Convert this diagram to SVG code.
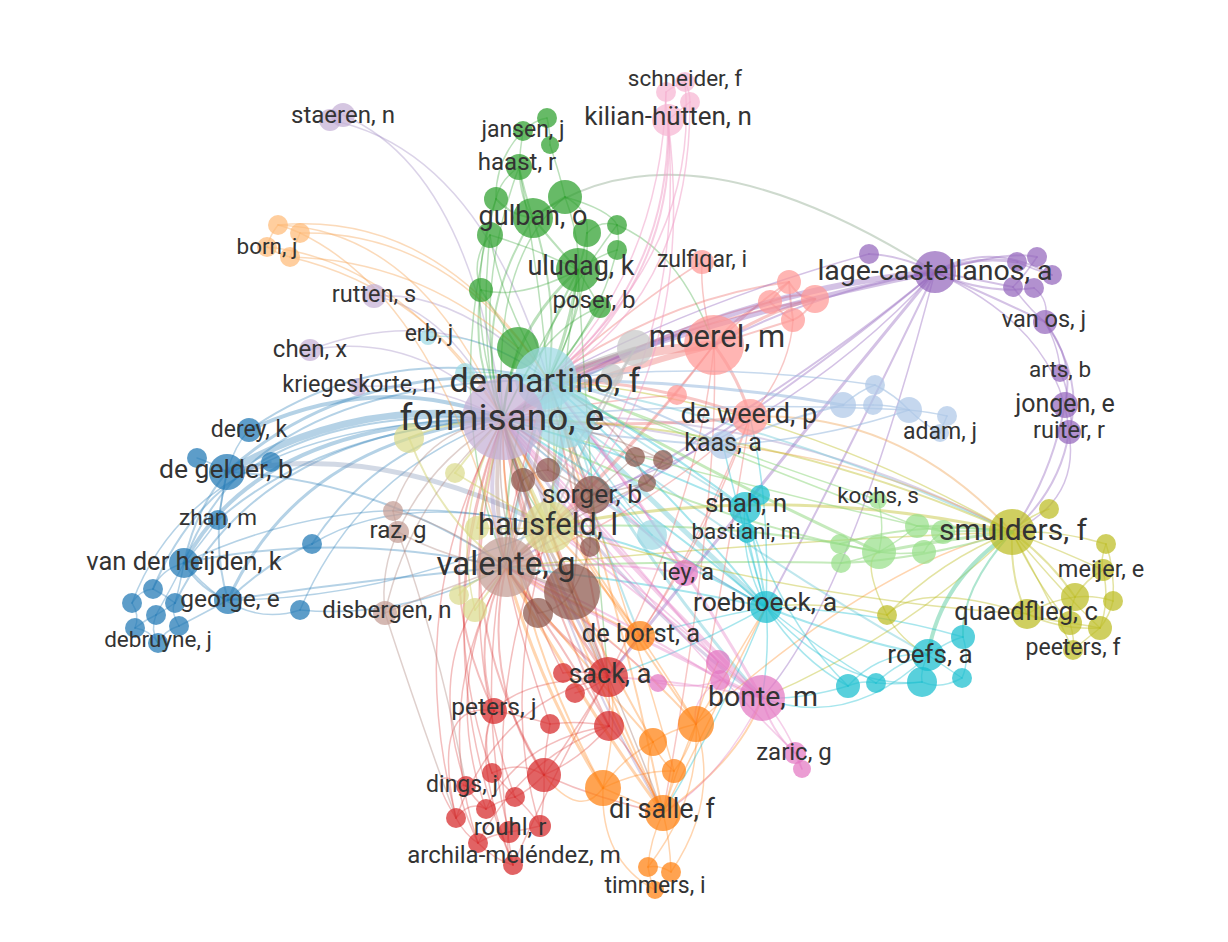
<svg xmlns="http://www.w3.org/2000/svg" width="1228" height="942" viewBox="0 0 1228 942">
<style>
.e path{fill:none;stroke-linecap:round}
.eb{stroke:#1f77b4;stroke-opacity:.33}
.egb{stroke:#7f93b5;stroke-opacity:.35}
.elp{stroke:#9a84c0;stroke-opacity:.36}
.elc{stroke:#7fcfdc;stroke-opacity:.5}
.elr{stroke:#f08a88;stroke-opacity:.48}
.epu{stroke:#9467bd;stroke-opacity:.4}
.etop{stroke:#a5bca5;stroke-opacity:.55}
.egr{stroke:#2ca02c;stroke-opacity:.32}
.elo{stroke:#f5a85a;stroke-opacity:.42}
.ere{stroke:#d62728;stroke-opacity:.3}
.eor{stroke:#ff7f0e;stroke-opacity:.33}
.elo2{stroke:#f0a860;stroke-opacity:.45}
.eol{stroke:#bcbd22;stroke-opacity:.42}
.ely{stroke:#cfcf6a;stroke-opacity:.48}
.elg{stroke:#8fd67f;stroke-opacity:.52}
.etl{stroke:#5ccba0;stroke-opacity:.5}
.ecy{stroke:#17becf;stroke-opacity:.38}
.epk{stroke:#e377c2;stroke-opacity:.36}
.elpk{stroke:#f0a0c8;stroke-opacity:.52}
.elb{stroke:#9fbde0;stroke-opacity:.58}
.ebr{stroke:#8c564b;stroke-opacity:.32}
.elbr{stroke:#b08a82;stroke-opacity:.4}
.egy{stroke:#b5b5b5;stroke-opacity:.55}
circle{fill-opacity:.72}
.blue{fill:#1f77b4}.green{fill:#2ca02c}.red{fill:#d62728}.orange{fill:#ff7f0e}
.olive{fill:#bcbd22}.purple{fill:#9467bd}.cyan{fill:#17becf}.pink{fill:#e377c2}
.lgreen{fill:#98df8a}.lred{fill:#ff9896}.lorange{fill:#ffbb78}.brown{fill:#8c564b}
.lbrown{fill:#c49c94}.lpink{fill:#f7b6d2}.grey{fill:#c7c7c7}.lblue{fill:#aec7e8}
.lyellow{fill:#dbdb8d}.lcyan{fill:#9edae5}.lpurple{fill:#c5b0d5}
text{font-family:Roboto,"Liberation Sans",sans-serif;fill:#333;text-anchor:middle}
</style>
<rect width="1228" height="942" fill="#fff"/>
<g id="connectors" class="e">
<g class="eb" stroke-width="7"><path d="M227,472Q360,395 503,419"/></g>
<g class="eb" stroke-width="4"><path d="M249,430Q380,370 503,419"/><path d="M184,563Q260,420 503,419"/></g>
<g class="eb" stroke-width="3"><path d="M228,600Q300,440 503,419"/><path d="M227,472Q350,360 548,380"/></g>
<g class="eb" stroke-width="2"><path d="M249,430Q380,340 548,380"/><path d="M184,563Q250,380 548,380"/><path d="M153,589Q230,400 503,419"/><path d="M175,603Q260,430 503,419"/><path d="M312,544Q380,440 503,419"/><path d="M228,600Q360,580 506,567"/><path d="M184,563Q340,530 506,567"/><path d="M227,472Q380,480 506,567"/><path d="M218,520Q320,430 503,419"/><path d="M227,472Q195,510 184,563"/><path d="M227,472Q210,540 228,600"/><path d="M184,563Q200,590 228,600"/><path d="M312,544Q270,560 228,600"/></g>
<g class="eb" stroke-width="1.5"><path d="M132,603Q200,420 503,419"/><path d="M300,610Q360,470 503,419"/><path d="M184,563Q360,480 549,527"/><path d="M228,600Q380,600 549,527"/><path d="M300,610Q240,630 184,563"/><path d="M153,589Q160,570 184,563"/><path d="M156,615Q170,590 184,563"/><path d="M175,603Q180,585 184,563"/><path d="M132,603Q140,590 153,589"/><path d="M135,628Q145,620 156,615"/><path d="M179,626Q170,610 175,603"/><path d="M158,643Q165,630 179,626"/><path d="M158,643Q150,630 135,628"/><path d="M132,603Q140,615 135,628"/><path d="M156,615Q165,610 175,603"/><path d="M153,589Q165,595 175,603"/><path d="M156,615Q150,630 158,643"/><path d="M179,626Q210,610 228,600"/><path d="M249,430Q235,445 227,472"/><path d="M197,458Q210,462 227,472"/><path d="M271,462Q250,465 227,472"/><path d="M218,520Q222,500 227,472"/><path d="M218,520Q200,545 184,563"/><path d="M300,610Q400,620 506,567"/><path d="M312,544Q400,490 549,527"/></g>
<g class="egb" stroke-width="5"><path d="M227,472Q380,440 549,527"/></g>
<g class="elp" stroke-width="1.5"><path d="M343,115Q470,170 503,419"/><path d="M330,120Q480,150 548,380"/><path d="M374,296Q450,310 503,419"/><path d="M310,350Q420,330 503,419"/><path d="M310,350Q440,300 548,380"/><path d="M358,387Q430,380 503,419"/><path d="M374,296Q460,290 548,380"/></g>
<g class="elp" stroke-width="2"><path d="M503,419Q760,400 1012,532"/><path d="M503,419Q640,540 766,607"/><path d="M503,419Q620,420 723,445"/><path d="M503,419Q560,640 663,813"/></g>
<g class="elp" stroke-width="3"><path d="M503,419Q620,600 762,698"/><path d="M503,419Q540,560 608,677"/></g>
<g class="elp" stroke-width="4"><path d="M503,419Q480,490 506,567"/><path d="M503,419Q540,470 549,527"/></g>
<g class="elc" stroke-width="5"><path d="M565,415Q650,500 766,607"/><path d="M565,415Q560,470 549,527"/></g>
<g class="elc" stroke-width="3"><path d="M565,415Q640,560 762,698"/><path d="M548,380Q520,480 506,567"/></g>
<g class="elc" stroke-width="2"><path d="M565,415Q760,560 928,655"/><path d="M548,380Q650,450 745,508"/><path d="M548,380Q800,430 1012,532"/><path d="M565,415Q590,460 592,495"/><path d="M565,415Q600,540 640,636"/><path d="M548,380Q600,380 635,348"/></g>
<g class="elc" stroke-width="1.5"><path d="M428,337Q480,330 548,380"/><path d="M465,373Q500,370 548,380"/><path d="M652,535Q600,470 565,415"/><path d="M652,535Q560,470 503,419"/></g>
<g class="elr" stroke-width="9"><path d="M714,345Q630,350 548,380"/></g>
<g class="elr" stroke-width="6"><path d="M714,345Q610,370 503,419"/></g>
<g class="elr" stroke-width="3"><path d="M714,345Q770,310 815,299"/><path d="M750,417Q740,380 714,345"/><path d="M750,417Q650,380 548,380"/><path d="M750,417Q620,430 503,419"/></g>
<g class="elr" stroke-width="2"><path d="M714,345Q760,300 789,282"/><path d="M714,345Q740,310 770,302"/><path d="M714,345Q760,330 793,320"/><path d="M815,299Q700,320 548,380"/><path d="M789,282Q660,300 548,380"/><path d="M714,345Q620,470 506,567"/><path d="M714,345Q640,440 549,527"/><path d="M789,282Q800,300 815,299"/><path d="M770,302Q780,290 789,282"/><path d="M770,302Q790,320 793,320"/><path d="M815,299Q805,315 793,320"/><path d="M789,282Q790,300 793,320"/><path d="M770,302Q800,290 815,299"/></g>
<g class="elr" stroke-width="1.5"><path d="M702,262Q700,300 714,345"/><path d="M702,262Q640,300 548,380"/><path d="M714,345Q700,500 608,677"/><path d="M750,417Q700,560 608,677"/><path d="M750,417Q640,520 506,567"/><path d="M750,417Q700,540 640,636"/><path d="M793,320Q790,370 750,417"/><path d="M677,395Q600,400 503,419"/><path d="M770,302Q650,330 503,419"/><path d="M714,345Q720,500 663,813"/><path d="M750,417Q720,600 696,724"/></g>
<g class="epu" stroke-width="6"><path d="M935,272Q720,290 503,419"/></g>
<g class="epu" stroke-width="5"><path d="M935,272Q740,310 548,380"/></g>
<g class="epu" stroke-width="3"><path d="M935,272Q780,460 608,677"/><path d="M935,272Q975,255 1017,262"/></g>
<g class="epu" stroke-width="2"><path d="M935,272Q780,400 549,527"/><path d="M935,272Q760,420 506,567"/><path d="M935,272Q840,470 766,607"/><path d="M935,272Q900,255 869,254"/><path d="M935,272Q985,295 1034,288"/><path d="M935,272Q990,240 1052,275"/><path d="M935,272Q1000,300 1045,322"/><path d="M1045,322Q1075,360 1065,405"/><path d="M1045,322Q1085,380 1069,432"/><path d="M1069,432Q1060,490 1012,532"/><path d="M1065,405Q1050,480 1012,532"/><path d="M935,272Q820,290 714,345"/><path d="M935,272Q1010,250 1037,257"/><path d="M935,272Q980,280 1013,287"/></g>
<g class="epu" stroke-width="1.5"><path d="M935,272Q1060,330 1069,432"/><path d="M1065,405Q1075,420 1069,432"/><path d="M1060,373Q1070,390 1065,405"/><path d="M1045,322Q1060,350 1060,373"/><path d="M935,272Q800,420 592,495"/><path d="M1017,262Q1035,270 1052,275"/><path d="M1013,287Q1025,275 1037,257"/><path d="M1034,288Q1050,300 1045,322"/><path d="M1013,287Q1030,310 1045,322"/><path d="M1069,432Q1080,500 1012,532"/><path d="M869,254Q700,300 548,380"/><path d="M935,272Q850,600 762,698"/></g>
<g class="etop" stroke-width="2"><path d="M533,218Q680,110 935,272"/></g>
<g class="egr" stroke-width="3"><path d="M578,270Q510,330 503,419"/><path d="M578,270Q570,330 548,380"/></g>
<g class="egr" stroke-width="2"><path d="M533,218Q470,320 503,419"/><path d="M533,218Q560,300 548,380"/><path d="M578,270Q500,420 506,567"/><path d="M481,290Q470,360 503,419"/><path d="M481,290Q500,320 518,348"/><path d="M518,348Q505,390 503,419"/><path d="M600,307Q580,340 548,380"/><path d="M533,218Q555,245 578,270"/><path d="M519,167Q525,195 533,218"/><path d="M565,197Q550,205 533,218"/><path d="M496,199Q510,215 533,218"/><path d="M587,233Q585,250 578,270"/></g>
<g class="egr" stroke-width="1.5"><path d="M578,270Q560,400 549,527"/><path d="M578,270Q590,480 608,677"/><path d="M519,167Q470,300 503,419"/><path d="M519,167Q540,280 548,380"/><path d="M565,197Q490,260 503,419"/><path d="M565,197Q600,290 548,380"/><path d="M496,199Q460,300 503,419"/><path d="M490,235Q500,300 548,380"/><path d="M587,233Q590,300 548,380"/><path d="M617,225Q560,300 503,419"/><path d="M617,250Q600,320 548,380"/><path d="M600,307Q540,330 503,419"/><path d="M519,167Q520,150 523,131"/><path d="M523,131Q535,120 547,118"/><path d="M547,118Q550,130 550,145"/><path d="M496,199Q500,180 519,167"/><path d="M490,235Q540,250 578,270"/><path d="M578,270Q590,290 600,307"/><path d="M578,270Q600,255 617,250"/><path d="M481,290Q520,300 578,270"/><path d="M565,197Q590,210 587,233"/><path d="M617,225Q600,220 587,233"/><path d="M496,199Q440,400 506,567"/><path d="M490,235Q470,420 549,527"/><path d="M617,225Q680,250 714,345"/><path d="M533,218Q520,200 519,167"/><path d="M550,145Q560,175 565,197"/><path d="M523,131Q495,160 496,199"/><path d="M490,235Q470,260 481,290"/><path d="M565,197Q610,210 617,225"/><path d="M617,250Q620,240 617,225"/></g>
<g class="elo" stroke-width="1.5"><path d="M278,225Q420,230 503,419"/><path d="M300,233Q450,230 548,380"/><path d="M267,247Q400,260 503,419"/><path d="M290,257Q420,260 518,348"/><path d="M290,257Q430,290 503,419"/><path d="M278,225Q440,210 548,380"/><path d="M300,233Q440,300 506,567"/><path d="M278,225Q290,228 300,233"/><path d="M267,247Q280,255 290,257"/><path d="M278,225Q270,235 267,247"/><path d="M300,233Q295,245 290,257"/></g>
<g class="ere" stroke-width="3"><path d="M608,677Q520,560 503,419"/><path d="M608,677Q540,620 506,567"/></g>
<g class="ere" stroke-width="2"><path d="M608,677Q580,520 548,380"/><path d="M608,677Q580,600 549,527"/><path d="M494,711Q420,560 503,419"/><path d="M494,711Q470,640 506,567"/><path d="M544,775Q440,600 503,419"/><path d="M544,775Q480,680 506,567"/><path d="M609,726Q530,560 503,419"/><path d="M609,726Q560,640 506,567"/></g>
<g class="ere" stroke-width="1.5"><path d="M456,818Q400,600 503,419"/><path d="M486,809Q440,680 506,567"/><path d="M515,797Q450,620 503,419"/><path d="M478,843Q430,700 506,567"/><path d="M513,865Q420,640 503,419"/><path d="M540,826Q500,700 549,527"/><path d="M550,724Q520,640 506,567"/><path d="M563,673Q500,550 503,419"/><path d="M492,773Q430,600 503,419"/><path d="M466,786Q420,650 506,567"/><path d="M509,832Q460,650 548,380"/><path d="M456,818Q430,700 494,711"/><path d="M513,865Q470,750 494,711"/><path d="M478,843Q450,780 466,786"/><path d="M456,818Q470,800 486,809"/><path d="M486,809Q500,800 515,797"/><path d="M515,797Q530,810 540,826"/><path d="M509,832Q525,830 540,826"/><path d="M478,843Q490,835 509,832"/><path d="M513,865Q505,850 509,832"/><path d="M478,843Q495,860 513,865"/><path d="M456,818Q465,835 478,843"/><path d="M466,786Q475,800 486,809"/><path d="M492,773Q505,785 515,797"/><path d="M544,775Q530,790 515,797"/><path d="M544,775Q545,800 540,826"/><path d="M550,724Q545,750 544,775"/><path d="M494,711Q520,715 550,724"/><path d="M609,726Q580,720 550,724"/><path d="M608,677Q610,700 609,726"/><path d="M563,673Q585,670 608,677"/><path d="M575,693Q590,690 608,677"/><path d="M609,726Q580,760 544,775"/><path d="M494,711Q480,740 492,773"/><path d="M544,775Q520,760 492,773"/><path d="M608,677Q520,680 494,711"/><path d="M608,677Q570,740 544,775"/><path d="M609,726Q640,760 663,813"/><path d="M544,775Q600,800 663,813"/><path d="M456,818Q420,760 466,786"/><path d="M513,865Q480,700 549,527"/><path d="M486,809Q520,740 609,726"/><path d="M456,818Q500,700 608,677"/><path d="M478,843Q520,760 609,726"/><path d="M513,865Q560,760 608,677"/></g>
<g class="eor" stroke-width="3"><path d="M663,813Q580,700 506,567"/><path d="M603,788Q540,690 506,567"/></g>
<g class="eor" stroke-width="2"><path d="M663,813Q560,620 503,419"/><path d="M663,813Q620,600 548,380"/><path d="M663,813Q600,680 549,527"/><path d="M603,788Q500,600 503,419"/><path d="M696,724Q580,560 503,419"/><path d="M696,724Q600,620 506,567"/><path d="M653,742Q560,580 503,419"/><path d="M653,742Q580,660 506,567"/><path d="M640,636Q560,520 503,419"/><path d="M640,636Q570,600 506,567"/><path d="M640,636Q600,580 549,527"/><path d="M663,813Q740,760 762,698"/></g>
<g class="eor" stroke-width="1.5"><path d="M674,771Q620,580 548,380"/><path d="M663,813Q680,760 696,724"/><path d="M663,813Q630,800 603,788"/><path d="M603,788Q620,760 653,742"/><path d="M653,742Q670,730 696,724"/><path d="M674,771Q690,750 696,724"/><path d="M663,813Q670,790 674,771"/><path d="M603,788Q640,770 674,771"/><path d="M653,742Q660,760 674,771"/><path d="M663,813Q640,775 653,742"/><path d="M648,867Q650,840 663,813"/><path d="M671,872Q670,840 663,813"/><path d="M655,890Q600,860 603,788"/><path d="M648,867Q700,800 696,724"/><path d="M671,872Q720,800 696,724"/><path d="M648,867Q660,865 671,872"/><path d="M655,890Q650,880 648,867"/><path d="M696,724Q740,650 766,607"/><path d="M696,724Q880,560 1012,532"/><path d="M603,788Q620,710 608,677"/><path d="M640,636Q670,680 696,724"/><path d="M696,724Q700,700 718,662"/><path d="M603,788Q580,820 544,775"/><path d="M663,813Q720,700 766,607"/></g>
<g class="elo2" stroke-width="2"><path d="M750,417Q900,410 1012,532"/></g>
<g class="elo2" stroke-width="1.5"><path d="M723,445Q880,460 1012,532"/></g>
<g class="eol" stroke-width="3"><path d="M1012,532Q780,480 549,527"/></g>
<g class="eol" stroke-width="2"><path d="M1012,532Q760,420 503,419"/><path d="M1012,532Q1050,560 1075,597"/><path d="M1012,532Q1010,580 1027,614"/></g>
<g class="eol" stroke-width="1.5"><path d="M1012,532Q780,400 548,380"/><path d="M1012,532Q780,540 506,567"/><path d="M1012,532Q940,560 887,615"/><path d="M1012,532Q1060,530 1106,544"/><path d="M1012,532Q1060,550 1103,570"/><path d="M1012,532Q1060,590 1100,628"/><path d="M1012,532Q1040,590 1070,623"/><path d="M1012,532Q1050,600 1073,650"/><path d="M1012,532Q1030,515 1049,509"/><path d="M1027,614Q1050,600 1075,597"/><path d="M1027,614Q1060,630 1100,628"/><path d="M1075,597Q1095,595 1113,601"/><path d="M1103,570Q1110,600 1100,628"/><path d="M1106,544Q1100,560 1103,570"/><path d="M1075,597Q1085,580 1103,570"/><path d="M1070,623Q1085,625 1100,628"/><path d="M1073,650Q1085,640 1100,628"/><path d="M1070,623Q1075,640 1073,650"/><path d="M1027,614Q1045,620 1070,623"/><path d="M1113,601Q1110,615 1100,628"/><path d="M1075,597Q1070,610 1070,623"/><path d="M1106,544Q1115,570 1113,601"/><path d="M1027,614Q800,600 549,527"/><path d="M887,615Q820,600 766,607"/><path d="M887,615Q900,640 928,655"/><path d="M1012,532Q900,640 762,698"/><path d="M1027,614Q920,580 887,615"/><path d="M887,615Q860,560 879,552"/></g>
<g class="ely" stroke-width="4"><path d="M549,527Q520,470 503,419"/></g>
<g class="ely" stroke-width="2"><path d="M549,527Q560,450 548,380"/><path d="M549,527Q520,550 506,567"/><path d="M409,438Q450,420 503,419"/><path d="M455,473Q480,440 503,419"/><path d="M477,528Q490,470 503,419"/><path d="M459,595Q470,580 506,567"/><path d="M475,610Q490,590 506,567"/><path d="M409,438Q440,520 506,567"/></g>
<g class="ely" stroke-width="1.5"><path d="M477,528Q510,530 549,527"/><path d="M455,473Q500,500 549,527"/><path d="M475,610Q450,510 503,419"/></g>
<g class="elg" stroke-width="3"><path d="M879,552Q700,470 548,380"/><path d="M1012,532Q940,540 879,552"/></g>
<g class="elg" stroke-width="2"><path d="M879,552Q700,520 503,419"/><path d="M840,544Q700,520 549,527"/><path d="M841,563Q700,560 506,567"/><path d="M1012,532Q960,525 917,526"/><path d="M1012,532Q975,530 943,532"/><path d="M1012,532Q920,520 840,544"/><path d="M1012,532Q920,560 841,563"/></g>
<g class="elg" stroke-width="1.5"><path d="M917,526Q720,450 548,380"/><path d="M943,532Q720,480 503,419"/><path d="M878,500Q885,525 879,552"/><path d="M878,500Q700,440 548,380"/><path d="M879,552Q900,540 917,526"/><path d="M924,552Q900,555 879,552"/><path d="M840,544Q860,548 879,552"/><path d="M841,563Q860,560 879,552"/><path d="M943,532Q930,540 924,552"/><path d="M917,526Q930,525 943,532"/></g>
<g class="etl" stroke-width="4"><path d="M1012,532Q940,580 928,655"/></g>
<g class="etl" stroke-width="2"><path d="M1012,532Q960,590 963,637"/></g>
<g class="ecy" stroke-width="2"><path d="M766,607Q640,500 503,419"/><path d="M766,607Q660,480 548,380"/><path d="M766,607Q640,580 506,567"/><path d="M766,607Q650,540 549,527"/><path d="M766,607Q760,560 745,508"/><path d="M766,607Q850,640 928,655"/><path d="M745,508Q640,430 548,380"/><path d="M745,508Q620,450 503,419"/></g>
<g class="ecy" stroke-width="1.5"><path d="M766,607Q755,570 747,533"/><path d="M766,607Q800,660 848,686"/><path d="M766,607Q820,650 876,683"/><path d="M766,607Q840,690 922,682"/><path d="M766,607Q870,610 963,637"/><path d="M766,607Q770,650 762,698"/><path d="M766,607Q690,650 608,677"/><path d="M766,607Q720,720 663,813"/><path d="M766,607Q700,620 640,636"/><path d="M766,607Q740,520 723,445"/><path d="M766,607Q770,500 750,417"/><path d="M928,655Q950,640 963,637"/><path d="M928,655Q920,670 922,682"/><path d="M928,655Q950,670 962,678"/><path d="M848,686Q862,680 876,683"/><path d="M876,683Q900,685 922,682"/><path d="M848,686Q880,650 928,655"/><path d="M963,637Q970,660 962,678"/><path d="M922,682Q940,690 962,678"/><path d="M876,683Q900,660 928,655"/><path d="M928,655Q850,730 762,698"/><path d="M848,686Q800,700 762,698"/><path d="M760,495Q752,500 745,508"/><path d="M848,686Q780,620 745,508"/><path d="M652,535Q580,470 548,380"/><path d="M652,535Q700,570 766,607"/><path d="M745,508Q740,560 766,607"/></g>
<g class="epk" stroke-width="4"><path d="M762,698Q620,560 503,419"/></g>
<g class="epk" stroke-width="3"><path d="M762,698Q660,520 548,380"/><path d="M762,698Q640,640 506,567"/></g>
<g class="epk" stroke-width="2"><path d="M762,698Q650,600 549,527"/><path d="M762,698Q680,680 608,677"/><path d="M718,662Q600,520 503,419"/><path d="M720,680Q610,610 506,567"/><path d="M685,573Q600,480 503,419"/><path d="M685,573Q600,560 506,567"/><path d="M795,753Q770,730 762,698"/><path d="M762,698Q740,680 718,662"/><path d="M762,698Q740,690 720,680"/></g>
<g class="epk" stroke-width="1.5"><path d="M718,662Q640,580 549,527"/><path d="M658,683Q590,620 506,567"/><path d="M802,769Q790,730 762,698"/><path d="M795,753Q640,600 503,419"/><path d="M762,698Q720,780 663,813"/><path d="M685,573Q640,500 548,380"/><path d="M658,683Q700,690 720,680"/><path d="M795,753Q798,762 802,769"/><path d="M720,680Q690,700 696,724"/></g>
<g class="elpk" stroke-width="2"><path d="M668,120Q680,300 503,419"/><path d="M668,120Q670,280 548,380"/></g>
<g class="elpk" stroke-width="1.5"><path d="M690,102Q690,300 548,380"/><path d="M666,92Q660,300 503,419"/><path d="M668,120Q690,400 506,567"/><path d="M668,120Q700,380 549,527"/><path d="M685,82Q700,250 548,380"/><path d="M666,92Q675,85 685,82"/><path d="M685,82Q690,92 690,102"/><path d="M666,92Q665,105 668,120"/><path d="M690,102Q680,110 668,120"/></g>
<g class="elb" stroke-width="3"><path d="M843,405Q700,380 548,380"/></g>
<g class="elb" stroke-width="2"><path d="M843,405Q780,420 723,445"/><path d="M723,445Q620,440 503,419"/><path d="M723,445Q640,400 548,380"/></g>
<g class="elb" stroke-width="1.5"><path d="M909,410Q700,400 503,419"/><path d="M875,385Q710,360 548,380"/><path d="M843,405Q860,390 875,385"/><path d="M843,405Q858,405 873,405"/><path d="M873,405Q890,405 909,410"/><path d="M909,410Q930,412 947,416"/><path d="M909,410Q925,425 940,433"/><path d="M875,385Q895,395 909,410"/><path d="M947,416Q943,425 940,433"/><path d="M909,410Q820,440 723,445"/></g>
<g class="ebr" stroke-width="3"><path d="M572,592Q520,500 503,419"/><path d="M572,592Q540,580 506,567"/></g>
<g class="ebr" stroke-width="2"><path d="M572,592Q590,480 548,380"/><path d="M572,592Q560,560 549,527"/><path d="M592,495Q540,440 503,419"/><path d="M592,495Q570,440 548,380"/><path d="M592,495Q540,540 506,567"/><path d="M592,495Q570,510 549,527"/><path d="M523,480Q510,450 503,419"/><path d="M548,470Q550,420 548,380"/></g>
<g class="ebr" stroke-width="1.5"><path d="M635,457Q600,410 548,380"/><path d="M663,460Q580,420 503,419"/><path d="M647,483Q560,520 506,567"/><path d="M538,613Q520,590 506,567"/><path d="M590,547Q520,480 503,419"/><path d="M538,613Q490,520 503,419"/><path d="M635,457Q650,455 663,460"/><path d="M635,457Q640,470 647,483"/><path d="M663,460Q655,475 647,483"/><path d="M592,495Q620,470 635,457"/><path d="M592,495Q620,490 647,483"/><path d="M523,480Q535,470 548,470"/><path d="M548,470Q570,480 592,495"/><path d="M523,480Q510,520 506,567"/><path d="M572,592Q560,610 538,613"/><path d="M590,547Q585,570 572,592"/><path d="M592,495Q590,520 590,547"/><path d="M572,592Q590,640 608,677"/><path d="M572,592Q620,700 663,813"/></g>
<g class="elbr" stroke-width="4"><path d="M506,567Q490,490 503,419"/></g>
<g class="elbr" stroke-width="3"><path d="M506,567Q540,470 548,380"/><path d="M506,567Q530,540 549,527"/></g>
<g class="elbr" stroke-width="1.5"><path d="M393,511Q440,520 506,567"/><path d="M398,532Q430,460 503,419"/><path d="M398,532Q450,560 506,567"/><path d="M385,613Q440,590 506,567"/><path d="M385,613Q410,500 503,419"/><path d="M385,613Q380,570 398,532"/><path d="M393,511Q395,520 398,532"/><path d="M398,532Q440,650 466,786"/><path d="M385,613Q420,720 456,818"/><path d="M393,511Q420,430 503,419"/></g>
<g class="egy" stroke-width="3"><path d="M635,348Q590,360 548,380"/></g>
<g class="egy" stroke-width="2"><path d="M635,348Q570,370 503,419"/><path d="M612,375Q560,390 503,419"/><path d="M635,348Q580,450 549,527"/><path d="M635,348Q560,470 506,567"/></g>
</g>
<g id="nodes">
<g id="n-g1"><circle class="green" cx="547" cy="118" r="10"/></g>
<g id="n-g2"><circle class="green" cx="550" cy="145" r="9"/></g>
<g id="n-g3"><circle class="green" cx="496" cy="199" r="12"/></g>
<g id="n-g4"><circle class="green" cx="565" cy="197" r="17"/></g>
<g id="n-g5"><circle class="green" cx="490" cy="235" r="13"/></g>
<g id="n-g6"><circle class="green" cx="587" cy="233" r="14"/></g>
<g id="n-g7"><circle class="green" cx="617" cy="225" r="10"/></g>
<g id="n-g8"><circle class="green" cx="617" cy="250" r="10"/></g>
<g id="n-g9"><circle class="green" cx="481" cy="290" r="12"/></g>
<g id="n-jansen"><circle class="green" cx="523" cy="131" r="10"/></g>
<g id="n-haast"><circle class="green" cx="519" cy="167" r="13"/></g>
<g id="n-gulban"><circle class="green" cx="533" cy="218" r="20"/></g>
<g id="n-uludag"><circle class="green" cx="578" cy="270" r="22"/></g>
<g id="n-poser"><circle class="green" cx="600" cy="307" r="11"/></g>
<g id="n-pl1"><circle class="lpink" cx="666" cy="92" r="10"/></g>
<g id="n-pl2"><circle class="lpink" cx="690" cy="102" r="10"/></g>
<g id="n-schneider"><circle class="lpink" cx="685" cy="82" r="10"/></g>
<g id="n-kilian"><circle class="lpink" cx="668" cy="120" r="16"/></g>
<g id="n-zulfiqar"><circle class="lred" cx="702" cy="262" r="12"/></g>
<g id="n-lr1"><circle class="lred" cx="789" cy="282" r="12"/></g>
<g id="n-lr2"><circle class="lred" cx="770" cy="302" r="12"/></g>
<g id="n-lr3"><circle class="lred" cx="815" cy="299" r="14"/></g>
<g id="n-lr4"><circle class="lred" cx="793" cy="320" r="12"/></g>
<g id="n-lr5"><circle class="lred" cx="677" cy="395" r="10"/></g>
<g id="n-moerel"><circle class="lred" cx="714" cy="345" r="30"/></g>
<g id="n-deweerd"><circle class="lred" cx="750" cy="417" r="18"/></g>
<g id="n-p1"><circle class="purple" cx="869" cy="254" r="10"/></g>
<g id="n-p2"><circle class="purple" cx="1017" cy="262" r="10"/></g>
<g id="n-p3"><circle class="purple" cx="1037" cy="257" r="10"/></g>
<g id="n-p4"><circle class="purple" cx="1052" cy="275" r="10"/></g>
<g id="n-p5"><circle class="purple" cx="1013" cy="287" r="10"/></g>
<g id="n-p6"><circle class="purple" cx="1034" cy="288" r="10"/></g>
<g id="n-lage"><circle class="purple" cx="935" cy="272" r="21"/></g>
<g id="n-vanos"><circle class="purple" cx="1045" cy="322" r="12"/></g>
<g id="n-arts"><circle class="purple" cx="1060" cy="373" r="9"/></g>
<g id="n-jongen"><circle class="purple" cx="1065" cy="405" r="13"/></g>
<g id="n-ruiter"><circle class="purple" cx="1069" cy="432" r="12"/></g>
<g id="n-lb1"><circle class="lblue" cx="843" cy="405" r="13"/></g>
<g id="n-lb2"><circle class="lblue" cx="875" cy="385" r="10"/></g>
<g id="n-lb3"><circle class="lblue" cx="873" cy="405" r="10"/></g>
<g id="n-lb4"><circle class="lblue" cx="909" cy="410" r="13"/></g>
<g id="n-lb5"><circle class="lblue" cx="947" cy="416" r="10"/></g>
<g id="n-adam"><circle class="lblue" cx="940" cy="433" r="9"/></g>
<g id="n-kaas"><circle class="lblue" cx="723" cy="445" r="14"/></g>
<g id="n-lv1"><circle class="lpurple" cx="330" cy="120" r="11"/></g>
<g id="n-staeren"><circle class="lpurple" cx="343" cy="115" r="12"/></g>
<g id="n-rutten"><circle class="lpurple" cx="374" cy="296" r="12"/></g>
<g id="n-chen"><circle class="lpurple" cx="310" cy="350" r="11"/></g>
<g id="n-kriegeskorte"><circle class="lpurple" cx="358" cy="387" r="9"/></g>
<g id="n-erb"><circle class="lcyan" cx="428" cy="337" r="8"/></g>
<g id="n-lc1"><circle class="lcyan" cx="465" cy="373" r="10"/></g>
<g id="n-gr1"><circle class="grey" cx="635" cy="348" r="18"/></g>
<g id="n-gr2"><circle class="grey" cx="612" cy="375" r="11"/></g>
<g id="n-g10"><circle class="green" cx="518" cy="348" r="21"/></g>
<g id="n-demartino"><circle class="lcyan" cx="546" cy="378" r="31"/></g>
<g id="n-lc2"><circle class="lcyan" cx="565" cy="418" r="30"/></g>
<g id="n-formisano"><circle class="lpurple" cx="503" cy="419" r="41"/></g>
<g id="n-lc3"><circle class="lcyan" cx="652" cy="535" r="15"/></g>
<g id="n-bo1"><circle class="lorange" cx="278" cy="225" r="10"/></g>
<g id="n-bo2"><circle class="lorange" cx="300" cy="233" r="10"/></g>
<g id="n-bo3"><circle class="lorange" cx="290" cy="257" r="10"/></g>
<g id="n-born"><circle class="lorange" cx="267" cy="247" r="10"/></g>
<g id="n-b1"><circle class="blue" cx="197" cy="458" r="10"/></g>
<g id="n-b2"><circle class="blue" cx="271" cy="462" r="10"/></g>
<g id="n-b3"><circle class="blue" cx="312" cy="544" r="10"/></g>
<g id="n-b4"><circle class="blue" cx="300" cy="610" r="10"/></g>
<g id="n-b5"><circle class="blue" cx="153" cy="589" r="10"/></g>
<g id="n-b6"><circle class="blue" cx="132" cy="603" r="10"/></g>
<g id="n-b7"><circle class="blue" cx="156" cy="615" r="10"/></g>
<g id="n-b8"><circle class="blue" cx="175" cy="603" r="10"/></g>
<g id="n-b9"><circle class="blue" cx="135" cy="628" r="10"/></g>
<g id="n-b10"><circle class="blue" cx="179" cy="626" r="10"/></g>
<g id="n-debruyne"><circle class="blue" cx="158" cy="643" r="10"/></g>
<g id="n-derey"><circle class="blue" cx="249" cy="430" r="12"/></g>
<g id="n-degelder"><circle class="blue" cx="227" cy="472" r="18"/></g>
<g id="n-zhan"><circle class="blue" cx="218" cy="520" r="10"/></g>
<g id="n-vanderheijden"><circle class="blue" cx="184" cy="563" r="15"/></g>
<g id="n-george"><circle class="blue" cx="228" cy="600" r="14"/></g>
<g id="n-y1"><circle class="lyellow" cx="409" cy="438" r="15"/></g>
<g id="n-y2"><circle class="lyellow" cx="455" cy="473" r="10"/></g>
<g id="n-y3"><circle class="lyellow" cx="477" cy="528" r="12"/></g>
<g id="n-y4"><circle class="lyellow" cx="459" cy="595" r="10"/></g>
<g id="n-y5"><circle class="lyellow" cx="475" cy="610" r="12"/></g>
<g id="n-br1"><circle class="brown" cx="523" cy="480" r="12"/></g>
<g id="n-br2"><circle class="brown" cx="548" cy="470" r="12"/></g>
<g id="n-br3"><circle class="brown" cx="635" cy="457" r="10"/></g>
<g id="n-br4"><circle class="brown" cx="663" cy="460" r="10"/></g>
<g id="n-br5"><circle class="brown" cx="647" cy="483" r="9"/></g>
<g id="n-sorger"><circle class="brown" cx="592" cy="495" r="19"/></g>
<g id="n-hausfeld"><circle class="lyellow" cx="549" cy="527" r="26"/></g>
<g id="n-br6"><circle class="brown" cx="590" cy="547" r="10"/></g>
<g id="n-valente"><circle class="lbrown" cx="506" cy="567" r="30"/></g>
<g id="n-br7"><circle class="brown" cx="572" cy="592" r="28"/></g>
<g id="n-br8"><circle class="brown" cx="538" cy="613" r="15"/></g>
<g id="n-raz1"><circle class="lbrown" cx="393" cy="511" r="10"/></g>
<g id="n-raz"><circle class="lbrown" cx="398" cy="532" r="11"/></g>
<g id="n-disbergen"><circle class="lbrown" cx="385" cy="613" r="12"/></g>
<g id="n-ley"><circle class="pink" cx="685" cy="573" r="13"/></g>
<g id="n-pk1"><circle class="pink" cx="718" cy="662" r="12"/></g>
<g id="n-pk2"><circle class="pink" cx="720" cy="680" r="10"/></g>
<g id="n-pk3"><circle class="pink" cx="658" cy="683" r="9"/></g>
<g id="n-bonte"><circle class="pink" cx="762" cy="698" r="23"/></g>
<g id="n-zaric"><circle class="pink" cx="795" cy="753" r="11"/></g>
<g id="n-pk4"><circle class="pink" cx="802" cy="769" r="9"/></g>
<g id="n-c1"><circle class="cyan" cx="760" cy="495" r="10"/></g>
<g id="n-shah"><circle class="cyan" cx="745" cy="508" r="16"/></g>
<g id="n-bastiani"><circle class="cyan" cx="747" cy="533" r="10"/></g>
<g id="n-roebroeck"><circle class="cyan" cx="766" cy="607" r="16"/></g>
<g id="n-c2"><circle class="cyan" cx="963" cy="637" r="12"/></g>
<g id="n-c3"><circle class="cyan" cx="922" cy="682" r="15"/></g>
<g id="n-c4"><circle class="cyan" cx="962" cy="678" r="10"/></g>
<g id="n-c5"><circle class="cyan" cx="876" cy="683" r="10"/></g>
<g id="n-c6"><circle class="cyan" cx="848" cy="686" r="12"/></g>
<g id="n-roefs"><circle class="cyan" cx="928" cy="655" r="16"/></g>
<g id="n-kochs"><circle class="lgreen" cx="878" cy="500" r="9"/></g>
<g id="n-lg1"><circle class="lgreen" cx="840" cy="544" r="10"/></g>
<g id="n-lg2"><circle class="lgreen" cx="841" cy="563" r="10"/></g>
<g id="n-lg3"><circle class="lgreen" cx="879" cy="552" r="17"/></g>
<g id="n-lg4"><circle class="lgreen" cx="917" cy="526" r="12"/></g>
<g id="n-lg5"><circle class="lgreen" cx="924" cy="552" r="12"/></g>
<g id="n-lg6"><circle class="lgreen" cx="943" cy="532" r="12"/></g>
<g id="n-o1"><circle class="olive" cx="1049" cy="509" r="10"/></g>
<g id="n-smulders"><circle class="olive" cx="1012" cy="532" r="23"/></g>
<g id="n-o2"><circle class="olive" cx="1106" cy="544" r="10"/></g>
<g id="n-meijer"><circle class="olive" cx="1103" cy="570" r="11"/></g>
<g id="n-o3"><circle class="olive" cx="1075" cy="597" r="14"/></g>
<g id="n-o4"><circle class="olive" cx="1113" cy="601" r="10"/></g>
<g id="n-o5"><circle class="olive" cx="1100" cy="628" r="12"/></g>
<g id="n-o6"><circle class="olive" cx="1070" cy="623" r="12"/></g>
<g id="n-quaedflieg"><circle class="olive" cx="1027" cy="614" r="15"/></g>
<g id="n-peeters"><circle class="olive" cx="1073" cy="650" r="10"/></g>
<g id="n-o7"><circle class="olive" cx="887" cy="615" r="10"/></g>
<g id="n-deborst"><circle class="orange" cx="640" cy="636" r="15"/></g>
<g id="n-or1"><circle class="orange" cx="696" cy="724" r="18"/></g>
<g id="n-or2"><circle class="orange" cx="653" cy="742" r="14"/></g>
<g id="n-or3"><circle class="orange" cx="674" cy="771" r="12"/></g>
<g id="n-or4"><circle class="orange" cx="603" cy="788" r="18"/></g>
<g id="n-disalle"><circle class="orange" cx="663" cy="813" r="18"/></g>
<g id="n-tm1"><circle class="orange" cx="648" cy="867" r="10"/></g>
<g id="n-tm2"><circle class="orange" cx="671" cy="872" r="10"/></g>
<g id="n-timmers"><circle class="orange" cx="655" cy="890" r="9"/></g>
<g id="n-r1"><circle class="red" cx="563" cy="673" r="10"/></g>
<g id="n-r2"><circle class="red" cx="575" cy="693" r="10"/></g>
<g id="n-sack"><circle class="red" cx="608" cy="677" r="20"/></g>
<g id="n-peters"><circle class="red" cx="494" cy="711" r="13"/></g>
<g id="n-r3"><circle class="red" cx="550" cy="724" r="10"/></g>
<g id="n-r4"><circle class="red" cx="609" cy="726" r="15"/></g>
<g id="n-r5"><circle class="red" cx="544" cy="775" r="17"/></g>
<g id="n-r6"><circle class="red" cx="492" cy="773" r="10"/></g>
<g id="n-dings"><circle class="red" cx="466" cy="786" r="10"/></g>
<g id="n-r7"><circle class="red" cx="456" cy="818" r="10"/></g>
<g id="n-r8"><circle class="red" cx="486" cy="809" r="10"/></g>
<g id="n-r9"><circle class="red" cx="515" cy="797" r="10"/></g>
<g id="n-rouhl"><circle class="red" cx="509" cy="832" r="11"/></g>
<g id="n-r10"><circle class="red" cx="540" cy="826" r="11"/></g>
<g id="n-r11"><circle class="red" cx="478" cy="843" r="10"/></g>
<g id="n-archila"><circle class="red" cx="513" cy="865" r="10"/></g>
</g>
<g id="labels">
<text x="502" y="430" font-size="37">formisano, e</text>
<text x="545" y="392" font-size="34">de martino, f</text>
<text x="506" y="575" font-size="33">valente, g</text>
<text x="548" y="535" font-size="31">hausfeld, l</text>
<text x="717" y="347" font-size="31">moerel, m</text>
<text x="1013" y="540" font-size="30">smulders, f</text>
<text x="935" y="280" font-size="28.5">lage-castellanos, a</text>
<text x="763" y="706" font-size="28.5">bonte, m</text>
<text x="610" y="683" font-size="27">sack, a</text>
<text x="662" y="818" font-size="27">di salle, f</text>
<text x="749" y="423" font-size="27">de weerd, p</text>
<text x="533" y="225" font-size="27">gulban, o</text>
<text x="581" y="275" font-size="27">uludag, k</text>
<text x="226" y="478" font-size="26.5">de gelder, b</text>
<text x="765" y="611" font-size="26.5">roebroeck, a</text>
<text x="592" y="503" font-size="26.5">sorger, b</text>
<text x="930" y="663" font-size="26">roefs, a</text>
<text x="746" y="512" font-size="26">shah, n</text>
<text x="668" y="125" font-size="26">kilian-hütten, n</text>
<text x="184" y="570" font-size="25.5">van der heijden, k</text>
<text x="1026" y="620" font-size="25.5">quaedflieg, c</text>
<text x="641" y="642" font-size="25.5">de borst, a</text>
<text x="723" y="451" font-size="25">kaas, a</text>
<text x="1065" y="412" font-size="25">jongen, e</text>
<text x="230" y="607" font-size="24.5">george, e</text>
<text x="494" y="715" font-size="24.5">peters, j</text>
<text x="517" y="170" font-size="24">haast, r</text>
<text x="343" y="123" font-size="24">staeren, n</text>
<text x="594" y="308" font-size="24">poser, b</text>
<text x="398" y="538" font-size="24">raz, g</text>
<text x="387" y="618" font-size="24">disbergen, n</text>
<text x="510" y="835" font-size="24">rouhl, r</text>
<text x="794" y="760" font-size="24">zaric, g</text>
<text x="514" y="863" font-size="24">archila-meléndez, m</text>
<text x="310" y="357" font-size="24">chen, x</text>
<text x="688" y="580" font-size="24">ley, a</text>
<text x="374" y="302" font-size="23.5">rutten, s</text>
<text x="1044" y="327" font-size="23.5">van os, j</text>
<text x="1101" y="577" font-size="23.5">meijer, e</text>
<text x="1069" y="438" font-size="23.5">ruiter, r</text>
<text x="359" y="392" font-size="23.5">kriegeskorte, n</text>
<text x="249" y="437" font-size="23">derey, k</text>
<text x="702" y="267" font-size="23">zulfiqar, i</text>
<text x="523" y="137" font-size="23">jansen, j</text>
<text x="655" y="893" font-size="23">timmers, i</text>
<text x="1073" y="655" font-size="23">peeters, f</text>
<text x="462" y="792" font-size="23">dings, j</text>
<text x="429" y="341" font-size="23">erb, j</text>
<text x="940" y="439" font-size="23">adam, j</text>
<text x="158" y="647" font-size="22.5">debruyne, j</text>
<text x="685" y="86" font-size="22.5">schneider, f</text>
<text x="878" y="503" font-size="22.5">kochs, s</text>
<text x="746" y="539" font-size="22.5">bastiani, m</text>
<text x="267" y="254" font-size="22.5">born, j</text>
<text x="1060" y="377" font-size="22.5">arts, b</text>
<text x="218" y="525" font-size="22.5">zhan, m</text>
</g>
</svg>
